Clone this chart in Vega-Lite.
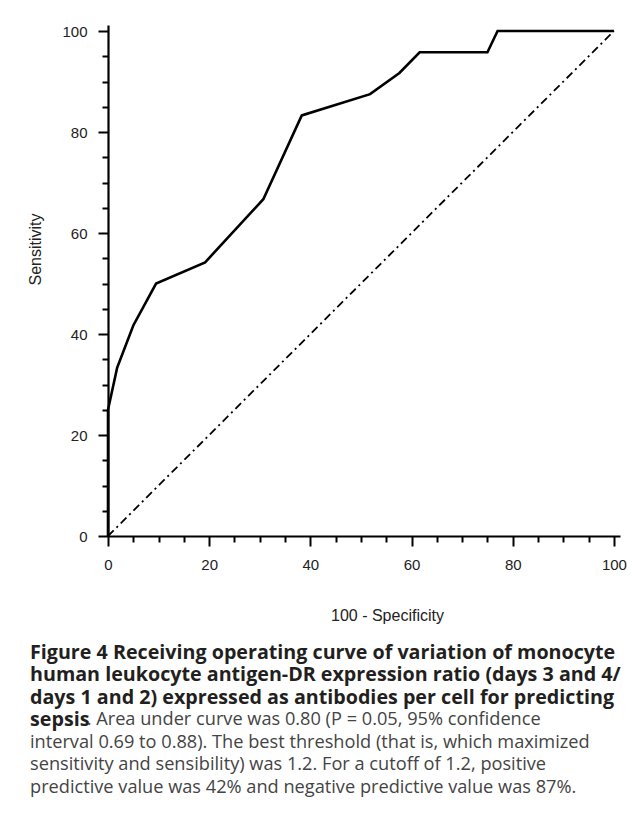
{
  "$schema": "https://vega.github.io/schema/vega-lite/v6.json",
  "width": 512,
  "height": 511,
  "autosize": {"type": "none"},
  "padding": {"left": 108, "top": 25, "right": 12, "bottom": 291},
  "background": "white",
  "config": {
    "view": {"stroke": null},
    "axis": {
      "domainColor": "black",
      "domainWidth": 2.2,
      "tickColor": "black",
      "tickWidth": 2,
      "labelFont": "Liberation Sans",
      "labelFontSize": 15,
      "labelColor": "#222222",
      "titleFont": "Liberation Sans",
      "titleFontSize": 16,
      "titleFontWeight": "normal",
      "titleColor": "#222222",
      "grid": false
    }
  },
  "title": {
    "text": [
      "Figure 4 Receiving operating curve of variation of monocyte",
      "human leukocyte antigen-DR expression ratio (days 3 and 4/",
      "days 1 and 2) expressed as antibodies per cell for predicting",
      "sepsis"
    ],
    "subtitle": [
      "\u2800\u2800\u2800\u2800 . Area under curve was 0.80 (P = 0.05, 95% confidence",
      "interval 0.69 to 0.88). The best threshold (that is, which maximized",
      "sensitivity and sensibility) was 1.2. For a cutoff of 1.2, positive",
      "predictive value was 42% and negative predictive value was 87%."
    ],
    "orient": "bottom",
    "anchor": "start",
    "frame": "group",
    "dx": -78,
    "offset": 20,
    "font": "Open Sans",
    "fontSize": 19.7,
    "fontWeight": "bold",
    "color": "#231f20",
    "lineHeight": 22.4,
    "subtitleFont": "Open Sans",
    "subtitleFontSize": 18.2,
    "subtitleFontWeight": "normal",
    "subtitleColor": "#444444",
    "subtitleLineHeight": 22.4,
    "subtitlePadding": -18.5
  },
  "data": {
    "values": [
      {"curve": "ROC", "order": 1, "spec": 0, "sens": 0},
      {"curve": "ROC", "order": 2, "spec": 0, "sens": 25},
      {"curve": "ROC", "order": 3, "spec": 1.8, "sens": 33.3},
      {"curve": "ROC", "order": 4, "spec": 5.0, "sens": 41.7},
      {"curve": "ROC", "order": 5, "spec": 9.5, "sens": 50},
      {"curve": "ROC", "order": 6, "spec": 19.2, "sens": 54.2},
      {"curve": "ROC", "order": 7, "spec": 30.7, "sens": 66.7},
      {"curve": "ROC", "order": 8, "spec": 38.3, "sens": 83.3},
      {"curve": "ROC", "order": 9, "spec": 51.8, "sens": 87.5},
      {"curve": "ROC", "order": 10, "spec": 57.6, "sens": 91.7},
      {"curve": "ROC", "order": 11, "spec": 61.6, "sens": 95.8},
      {"curve": "ROC", "order": 12, "spec": 75.0, "sens": 95.8},
      {"curve": "ROC", "order": 13, "spec": 77.0, "sens": 100},
      {"curve": "ROC", "order": 14, "spec": 100, "sens": 100},
      {"curve": "reference", "order": 1, "spec": 0, "sens": 0},
      {"curve": "reference", "order": 2, "spec": 100, "sens": 100}
    ]
  },
  "encoding": {
    "x": {
      "field": "spec",
      "type": "quantitative",
      "scale": {"domain": [0, 101.2], "nice": false},
      "axis": {
        "title": "100 - Specificity",
        "values": [0,5,10,15,20,25,30,35,40,45,50,55,60,65,70,75,80,85,90,95,100],
        "labelExpr": "datum.value % 20 === 0 ? datum.label : ''",
        "tickSize": {"condition": {"test": "datum.value % 20 === 0", "value": 10}, "value": 6},
        "labelPadding": 11,
        "titleX": 279,
        "titleY": 79,
        "titleBaseline": "middle",
        "titleAnchor": "middle",
        "labelFlush": false
      }
    },
    "y": {
      "field": "sens",
      "type": "quantitative",
      "scale": {"domain": [0, 101.2], "nice": false},
      "axis": {
        "title": "Sensitivity",
        "values": [0,5,10,15,20,25,30,35,40,45,50,55,60,65,70,75,80,85,90,95,100],
        "labelExpr": "datum.value % 20 === 0 ? datum.label : ''",
        "tickSize": {"condition": {"test": "datum.value % 20 === 0", "value": 10}, "value": 6},
        "labelPadding": 11,
        "titleX": -73,
        "titleY": 224,
        "titleBaseline": "middle",
        "titleAnchor": "middle",
        "labelFlush": false
      }
    },
    "order": {"field": "order", "type": "quantitative"}
  },
  "layer": [
    {
      "transform": [{"filter": "datum.curve === 'reference'"}],
      "mark": {"type": "line", "color": "black", "strokeWidth": 1.8, "strokeDash": [8, 4, 2, 4]}
    },
    {
      "transform": [{"filter": "datum.curve === 'ROC'"}],
      "mark": {"type": "line", "color": "black", "strokeWidth": 2.6, "strokeJoin": "miter"}
    }
  ]
}
